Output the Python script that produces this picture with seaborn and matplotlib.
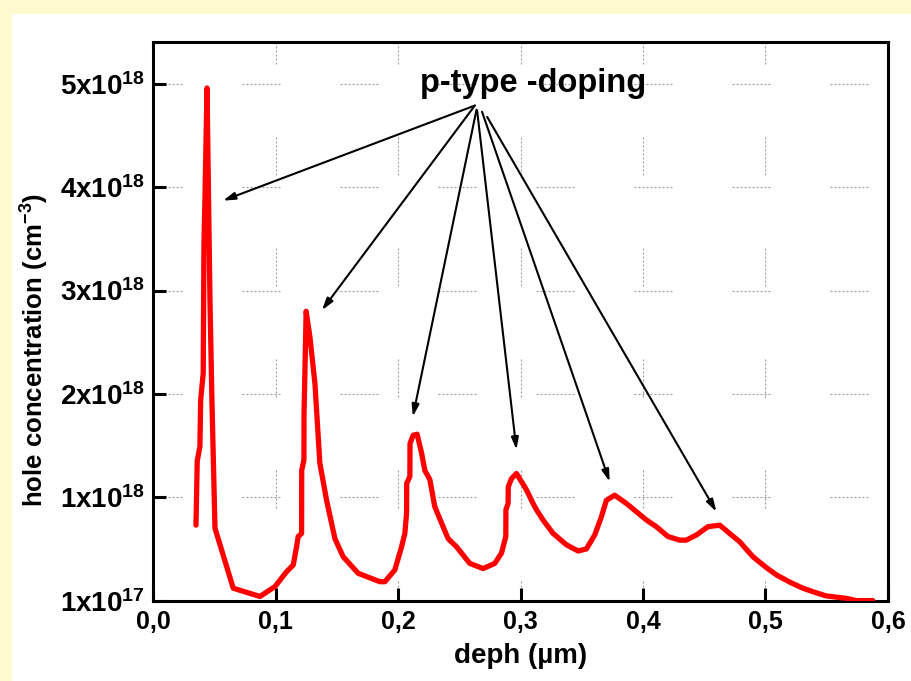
import numpy as np
import matplotlib
matplotlib.use("Agg")
import matplotlib.pyplot as plt
import seaborn as sns
from matplotlib.patches import Rectangle

# depth (um) and hole concentration (units of 1e18 cm^-3)
depth = [0.0351, 0.0361, 0.0383, 0.0389, 0.0410, 0.0416, 0.0424, 0.0441, 0.0465, 0.0481,
         0.0506, 0.0655, 0.0873, 0.0995, 0.1091, 0.1145, 0.1172, 0.1185, 0.1213, 0.1214,
         0.1232, 0.1233, 0.1245, 0.1250, 0.1281, 0.1322, 0.1362, 0.1417, 0.1485, 0.1552,
         0.1675, 0.1852, 0.1893, 0.1974, 0.2029, 0.2056, 0.2070, 0.2071, 0.2097, 0.2098,
         0.2124, 0.2156, 0.2192, 0.2219, 0.2260, 0.2300, 0.2368, 0.2409, 0.2478, 0.2586,
         0.2695, 0.2790, 0.2845, 0.2880, 0.2881, 0.2899, 0.2900, 0.2926, 0.2967, 0.3008,
         0.3035, 0.3062, 0.3102, 0.3130, 0.3184, 0.3266, 0.3375, 0.3470, 0.3538, 0.3606,
         0.3660, 0.3701, 0.3769, 0.3864, 0.3946, 0.4028, 0.4109, 0.4204, 0.4299, 0.4354,
         0.4436, 0.4530, 0.4626, 0.4707, 0.4789, 0.4897, 0.5006, 0.5088, 0.5196, 0.5305,
         0.5387, 0.5496, 0.5659, 0.5741, 0.5876]
conc = [0.73, 1.35, 1.49, 1.94, 2.20, 3.45, 3.88, 4.96, 2.91, 1.94,
        0.70, 0.12, 0.04, 0.135, 0.28, 0.345, 0.52, 0.62, 0.65, 1.26,
        1.36, 1.81, 2.49, 2.80, 2.55, 2.10, 1.33, 0.97, 0.60, 0.425,
        0.264, 0.183, 0.183, 0.296, 0.52, 0.65, 0.845, 1.135, 1.20, 1.52,
        1.60, 1.61, 1.43, 1.26, 1.17, 0.91, 0.715, 0.60, 0.52, 0.36,
        0.31, 0.36, 0.46, 0.62, 0.88, 0.94, 1.10, 1.18, 1.23, 1.15,
        1.10, 1.04, 0.94, 0.88, 0.78, 0.65, 0.54, 0.48, 0.50, 0.635,
        0.81, 0.97, 1.02, 0.94, 0.86, 0.78, 0.715, 0.62, 0.585, 0.585,
        0.635, 0.715, 0.73, 0.65, 0.57, 0.425, 0.32, 0.25, 0.18, 0.12,
        0.086, 0.045, 0.022, 0.0, 0.0]

xticks = [0.0, 0.1, 0.2, 0.3, 0.4, 0.5, 0.6]
xticklabels = ["0,0", "0,1", "0,2", "0,3", "0,4", "0,5", "0,6"]
yticks = [0, 1, 2, 3, 4, 5]
yticklabels = ["1x10$^{17}$", "1x10$^{18}$", "2x10$^{18}$", "3x10$^{18}$",
               "4x10$^{18}$", "5x10$^{18}$"]

# annotation arrows: (tail) -> (tip)
arrow_tails = [(0.2627, 4.79), (0.2627, 4.79), (0.2641, 4.75), (0.2646, 4.74),
               (0.2686, 4.73), (0.2728, 4.68)]
arrow_tips = [(0.0571, 3.87), (0.1379, 2.81), (0.2121, 1.78), (0.2967, 1.46),
              (0.3728, 1.15), (0.4599, 0.86)]

sns.set_theme(style="ticks")
plt.rcParams["font.family"] = ["Liberation Sans", "DejaVu Sans"]
plt.rcParams["font.weight"] = "bold"
plt.rcParams["text.color"] = "black"
plt.rcParams["axes.labelcolor"] = "black"
plt.rcParams["xtick.color"] = "black"
plt.rcParams["ytick.color"] = "black"
plt.rcParams["xtick.labelcolor"] = "black"
plt.rcParams["ytick.labelcolor"] = "black"
plt.rcParams["mathtext.fontset"] = "custom"
plt.rcParams["mathtext.rm"] = "Liberation Sans:bold"
plt.rcParams["mathtext.it"] = "Liberation Sans:bold"
plt.rcParams["mathtext.bf"] = "Liberation Sans:bold"
plt.rcParams["mathtext.default"] = "rm"
plt.rcParams["lines.scale_dashes"] = False

fig = plt.figure(figsize=(9.11, 6.81), dpi=100, facecolor="#FFFACD")
fig.add_artist(Rectangle((12 / 911, 0), 1, 667 / 681, transform=fig.transFigure,
                         facecolor="white", edgecolor="none", zorder=-1))
ax = fig.add_axes([153 / 911, 80.4 / 681, 735 / 911, 558.6 / 681])
ax.set_facecolor("white")

# dotted grid pieces
px = 0.72
dots = [2 * px, 2 * px] * 9
ax.yaxis.grid(True, color="#9a9a9a", lw=0.8,
              linestyle=(9 * px, dots + [2 * px, 60 * px]))
ax.xaxis.grid(True, color="#9a9a9a", lw=0.8,
              linestyle=(18 * px, dots + [2 * px, 73 * px]))
ax.set_axisbelow(True)

sns.lineplot(x=depth, y=conc, ax=ax, sort=False, estimator=None,
             color="#FF0000", lw=3.8, zorder=3)

for tail, tip in zip(arrow_tails, arrow_tips):
    ax.annotate("", xy=tip, xytext=tail,
                arrowprops=dict(arrowstyle="-|>,head_length=0.6,head_width=0.18",
                                color="black", lw=1.5, shrinkA=0, shrinkB=0,
                                mutation_scale=12), zorder=4)

ax.text(0.3104, 4.92, "p-type -doping", ha="center", va="baseline",
        fontsize=23.5, fontweight="bold", color="black", zorder=5)

ax.set_xlim(0, 0.6)
ax.set_ylim(0, 5.405)
ax.set_xticks(xticks)
ax.set_xticklabels(xticklabels, fontsize=18, fontweight="bold")
ax.set_yticks(yticks)
ax.set_yticklabels(yticklabels, fontsize=20, fontweight="bold")
ax.tick_params(direction="in", length=9.5, width=2.2, color="black",
               labelcolor="black", top=False, right=False)
ax.tick_params(axis="x", pad=7)
ax.tick_params(axis="y", pad=6)
for s in ax.spines.values():
    s.set_linewidth(2.2)
    s.set_color("black")
    s.set_visible(True)

ax.set_xlabel("deph (µm)", fontsize=20, fontweight="bold", color="black")
ax.xaxis.set_label_coords(0.5, -0.076)
ax.set_ylabel("hole concentration (cm$^{-3}$)", fontsize=18.5, fontweight="bold",
              color="black")
ax.yaxis.set_label_coords(-0.139, 0.449)

fig.savefig("out.png", dpi=100, facecolor=fig.get_facecolor())
